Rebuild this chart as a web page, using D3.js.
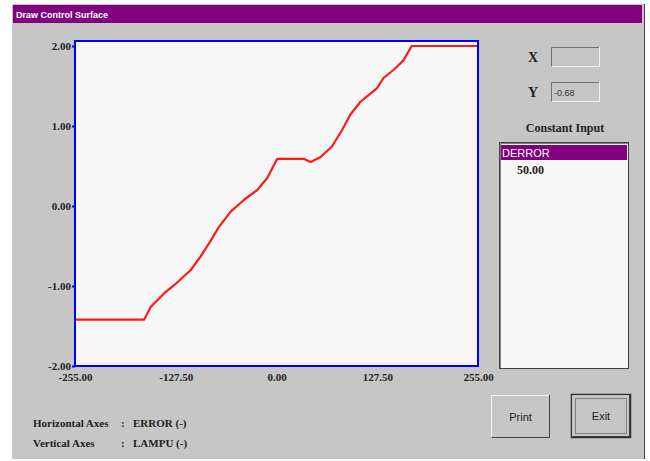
<!DOCTYPE html>
<html>
<head>
<meta charset="utf-8">
<script src="https://cdn.jsdelivr.net/npm/d3@7"></script>
<style>
  html, body { margin: 0; padding: 0; background: #ffffff; }
  svg { display: block; }
</style>
</head>
<body>
<svg id="chart" width="650" height="461"></svg>
<script>
// ---- data ----
const errorValues = [-255, -167.5, -159, -142, -129.6, -108.5, -96, -83, -72.8, -58, -41.3, -24.4, -11.7, 0.9, 34.5, 43, 55.5, 70, 83, 93.4, 106, 114.5, 127, 135.4, 148, 160.7, 171, 255];
const lampuValues = [-1.42, -1.42, -1.26, -1.09, -0.99, -0.80, -0.63, -0.43, -0.26, -0.07, 0.075, 0.20, 0.35, 0.59, 0.59, 0.55, 0.61, 0.74, 0.95, 1.14, 1.30, 1.37, 1.47, 1.60, 1.70, 1.82, 2.00, 2.00];
const xTicks = [-255, -127.5, 0, 127.5, 255];
const yTicks = [-2, -1, 0, 1, 2];
const windowTitle = "Draw Control Surface";
const constantInputs = ["DERROR"];
const constantValues = ["50.00"];
const axisNotes = [["Horizontal Axes", "ERROR (-)"], ["Vertical Axes", "LAMPU (-)"]];

const svg = d3.select("#chart");
const serif = "'Liberation Serif','Times New Roman',serif";
const sans = "'Liberation Sans',Arial,sans-serif";
const fmt = v => d3.format(".2f")(v).replace("\u2212", "-");

// window background
svg.append("rect").attr("x", 12).attr("y", 4).attr("width", 632).attr("height", 455).attr("fill", "#c6c6c6");
svg.append("line").attr("x1", 644.5).attr("x2", 644.5).attr("y1", 4).attr("y2", 459).attr("stroke", "#404040").attr("stroke-width", 1);
// title bar
svg.append("rect").attr("x", 13).attr("y", 5).attr("width", 629).attr("height", 18).attr("fill", "#800080");
svg.append("text").attr("x", 16).attr("y", 17.5).attr("fill", "#ffffff").attr("font-family", sans)
  .attr("font-size", 9).attr("font-weight", "bold").text(windowTitle);

// plot area
const L = 75, R = 478, T = 46, B = 366;
const x = d3.scaleLinear().domain([-255, 255]).range([L, R]);
const y = d3.scaleLinear().domain([-2, 2]).range([B, T]);

svg.append("rect").attr("x", L).attr("y", 41).attr("width", R - L).attr("height", B - 41)
  .attr("fill", "#f7f7f7");

// line
const line = d3.line().x((d, i) => x(errorValues[i])).y((d, i) => y(lampuValues[i])).curve(d3.curveLinear);
svg.append("path").datum(lampuValues).attr("d", line).attr("fill", "none")
  .attr("stroke", "#ff1a1a").attr("stroke-width", 2.2).attr("stroke-linejoin", "round");

// frame
svg.append("rect").attr("x", L).attr("y", 41).attr("width", R - L).attr("height", B - 41)
  .attr("fill", "none").attr("stroke", "#0000ff").attr("stroke-width", 2);

// y axis
const yAxis = d3.axisLeft(y).tickValues(yTicks).tickSize(3).tickFormat(fmt);
const yg = svg.append("g").attr("transform", `translate(${L},0)`).call(yAxis);
yg.select(".domain").remove();
yg.selectAll(".tick line").attr("stroke", "#0000ff").attr("stroke-width", 2);
yg.selectAll(".tick text").attr("font-family", serif).attr("font-weight", "bold").attr("font-size", 11)
  .attr("fill", "#222").attr("x", -4);

// x axis
const xAxis = d3.axisBottom(x).tickValues(xTicks).tickSize(0).tickFormat(fmt);
const xg = svg.append("g").attr("transform", `translate(0,${B})`).call(xAxis);
xg.select(".domain").remove();
xg.selectAll(".tick text").attr("font-family", serif).attr("font-weight", "bold").attr("font-size", 11)
  .attr("fill", "#222").attr("dy", "1.05em");

// X / Y readouts
function sunkBox(x0, y0, w, h) {
  svg.append("rect").attr("x", x0).attr("y", y0).attr("width", w).attr("height", h).attr("fill", "#c6c6c6");
  svg.append("path").attr("d", `M${x0 + 0.5},${y0 + h}V${y0 + 0.5}H${x0 + w}`).attr("stroke", "#707070").attr("fill", "none");
  svg.append("path").attr("d", `M${x0 + 0.5},${y0 + h - 0.5}H${x0 + w - 0.5}V${y0}`).attr("stroke", "#f0f0f0").attr("fill", "none");
}
svg.append("text").attr("x", 533).attr("y", 62).attr("text-anchor", "middle").attr("font-family", serif)
  .attr("font-weight", "bold").attr("font-size", 14).attr("fill", "#222").text("X");
sunkBox(551, 47, 49, 20);
svg.append("text").attr("x", 533).attr("y", 97).attr("text-anchor", "middle").attr("font-family", serif)
  .attr("font-weight", "bold").attr("font-size", 14).attr("fill", "#222").text("Y");
sunkBox(551, 82, 49, 20);
svg.append("text").attr("x", 554).attr("y", 96).attr("font-family", sans).attr("font-size", 9)
  .attr("fill", "#333").text("-0.68");

svg.append("text").attr("x", 565).attr("y", 132).attr("text-anchor", "middle").attr("font-family", serif)
  .attr("font-weight", "bold").attr("font-size", 12).attr("fill", "#222").text("Constant Input");

// list box
svg.append("rect").attr("x", 499.5).attr("y", 142.5).attr("width", 129).attr("height", 226).attr("fill", "#f7f7f7")
  .attr("stroke", "#404040");
svg.append("path").attr("d", "M500.5,368V143.5H628").attr("stroke", "#808080").attr("fill", "none");
svg.selectAll(".item").data(constantInputs).enter().append("rect").attr("x", 501).attr("y", (d, i) => 145 + i * 15)
  .attr("width", 126).attr("height", 15).attr("fill", "#800080");
svg.selectAll(".itemtxt").data(constantInputs).enter().append("text").attr("x", 502).attr("y", (d, i) => 157 + i * 15)
  .attr("font-family", sans).attr("font-size", 11).attr("fill", "#ffffff").text(d => d);
svg.selectAll(".valtxt").data(constantValues).enter().append("text").attr("x", 517).attr("y", (d, i) => 174 + i * 15)
  .attr("font-family", serif).attr("font-weight", "bold").attr("font-size", 12).attr("fill", "#222").text(d => d);

// buttons
function button(x0, y0, w, h, label, isDefault) {
  svg.append("rect").attr("x", x0).attr("y", y0).attr("width", w).attr("height", h).attr("fill", "#c6c6c6");
  svg.append("path").attr("d", `M${x0 + 0.5},${y0 + h}V${y0 + 0.5}H${x0 + w}`).attr("stroke", "#f4f4f4").attr("fill", "none");
  svg.append("path").attr("d", `M${x0 + 0.5},${y0 + h - 0.5}H${x0 + w - 0.5}V${y0}`).attr("stroke", "#404040").attr("fill", "none");
  if (isDefault) {
    svg.append("rect").attr("x", x0 - 0.5).attr("y", y0 - 0.5).attr("width", w + 1).attr("height", h + 1)
      .attr("fill", "none").attr("stroke", "#303030").attr("stroke-width", 1.5);
    svg.append("rect").attr("x", x0 + 3.5).attr("y", y0 + 3.5).attr("width", w - 7).attr("height", h - 7)
      .attr("fill", "none").attr("stroke", "#808080").attr("stroke-width", 1);
  }
  svg.append("text").attr("x", x0 + w / 2).attr("y", y0 + h / 2 + 4).attr("text-anchor", "middle")
    .attr("font-family", sans).attr("font-size", 11).attr("fill", "#222").text(label);
}
button(491, 395, 59, 43, "Print", false);
button(572, 395, 58, 42, "Exit", true);

// axis notes
axisNotes.forEach((n, i) => {
  const yy = 427 + i * 20;
  svg.append("text").attr("x", 33).attr("y", yy).attr("font-family", serif).attr("font-weight", "bold")
    .attr("font-size", 11).attr("fill", "#222").text(n[0]);
  svg.append("text").attr("x", 121).attr("y", yy).attr("font-family", serif).attr("font-weight", "bold")
    .attr("font-size", 11).attr("fill", "#222").text(":");
  svg.append("text").attr("x", 133).attr("y", yy).attr("font-family", serif).attr("font-weight", "bold")
    .attr("font-size", 11).attr("fill", "#222").text(n[1]);
});
</script>
</body>
</html>
